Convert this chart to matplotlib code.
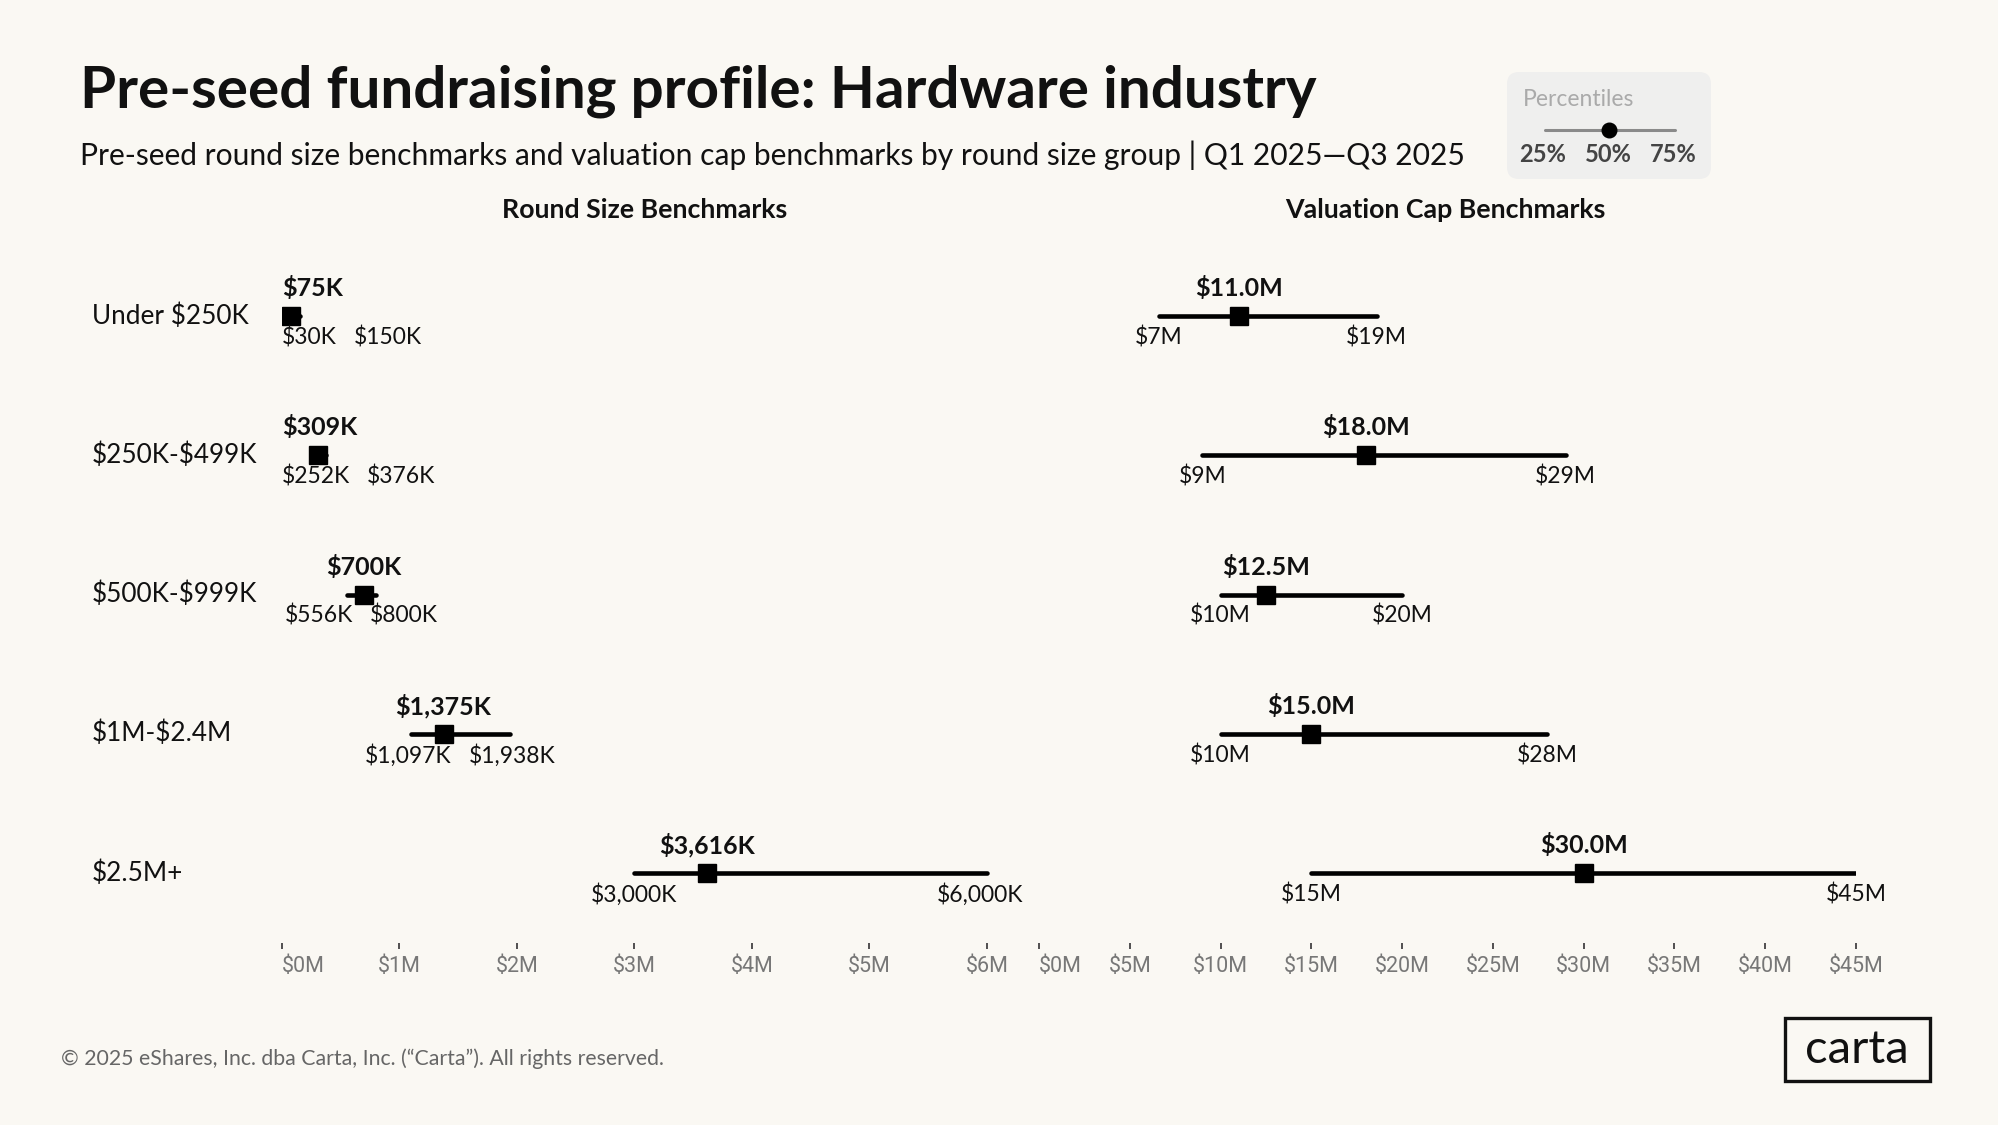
import matplotlib
matplotlib.use("Agg")
import matplotlib.pyplot as plt
from matplotlib.patches import FancyBboxPatch, Rectangle

# ---------------- data ----------------
categories = ["Under $250K", "$250K-$499K", "$500K-$999K", "$1M-$2.4M", "$2.5M+"]
round_p25 = [30, 252, 556, 1097, 3000]      # $K
round_p50 = [75, 309, 700, 1375, 3616]      # $K
round_p75 = [150, 376, 800, 1938, 6000]     # $K
val_p25 = [6.6, 9, 10, 10, 15]              # $M
val_p50 = [11.0, 18.0, 12.5, 15.0, 30.0]    # $M
val_p75 = [18.6, 29, 20, 28, 45]            # $M
round_ticks = [0, 1, 2, 3, 4, 5, 6]         # $M
val_ticks = [0, 5, 10, 15, 20, 25, 30, 35, 40, 45]  # $M

title = "Pre-seed fundraising profile: Hardware industry"
subtitle = ("Pre-seed round size benchmarks and valuation cap benchmarks by round size group | "
            "Q1 2025\u2014Q3 2025")
footer = "\u00a9 2025 eShares, Inc. dba Carta, Inc. (\u201cCarta\u201d). All rights reserved."

# ---------------- style ----------------
BG = "#FAF8F3"
FONT = ["Lato", "DejaVu Sans"]
TICKFONT = ["Liberation Sans Narrow", "Roboto", "DejaVu Sans"]
plt.rcParams["font.family"] = FONT
plt.rcParams["text.parse_math"] = False

W, H = 1999, 1125
fig = plt.figure(figsize=(W / 100, H / 100), dpi=100, facecolor=BG)

# overlay in pixel coordinates for free text
ov = fig.add_axes([0, 0, 1, 1], zorder=0)
ov.set_xlim(0, W)
ov.set_ylim(H, 0)
ov.axis("off")
ov.patch.set_alpha(0)

ov.text(80, 107, title, fontsize=42, fontweight="bold", color="#111111", va="baseline", ha="left")
ov.text(80, 165, subtitle, fontsize=21.6, color="#111111", va="baseline", ha="left")
ov.text(645, 218, "Round Size Benchmarks", fontsize=19.3, fontweight="bold", color="#111111",
        va="baseline", ha="center")
ov.text(1445, 218, "Valuation Cap Benchmarks", fontsize=19.3, fontweight="bold", color="#111111",
        va="baseline", ha="center")
ov.text(61, 1059, footer, fontsize=15.3, color="#666666", va="center", ha="left")

# legend box
ov.add_patch(FancyBboxPatch((1507, 72), 204, 107, boxstyle="round,pad=0,rounding_size=12",
                            facecolor="#EFEFEE", edgecolor="none"))
ov.text(1523, 99, "Percentiles", fontsize=16.5, color="#AAAAAA", va="center", ha="left")
ov.plot([1545, 1675], [130, 130], color="#8A8A8A", lw=2.2, solid_capstyle="round")
ov.plot([1609], [130], marker="o", ms=10.5, color="black")
for lx, lt in zip([1543, 1608, 1673], ["25%", "50%", "75%"]):
    ov.text(lx, 155, lt, fontsize=17, fontweight="bold", color="#444444", va="center", ha="center")

# carta logo
ov.add_patch(Rectangle((1785, 1018), 145, 63, facecolor="none", edgecolor="#111111", lw=2.4))
ov.text(1857, 1050, "carta", fontsize=34, color="#111111", va="center", ha="center")

# row labels
row_px = [316.2, 455.2, 594.2, 733.1, 873.4]
for yp, cat in zip(row_px, categories):
    ov.text(92, yp, cat, fontsize=18.8, color="#111111", va="center", ha="left")

# ---------------- panels ----------------
ax_bottom = 1 - 943 / H
ax_height = 696.6 / H
axL = fig.add_axes([282 / W, ax_bottom, 741.4 / W, ax_height], zorder=2)
axR = fig.add_axes([1039 / W, ax_bottom, 817 / W, ax_height], zorder=2)

rows = list(range(len(categories)))


def style_axis(ax, xmax, ticks):
    ax.set_xlim(0, xmax)
    ax.set_ylim(4.5, -0.5)
    ax.patch.set_alpha(0)
    for s in ax.spines.values():
        s.set_visible(False)
    ax.set_yticks([])
    ax.set_xticks(ticks)
    ax.set_xticklabels([f"${t}M" for t in ticks], fontfamily=TICKFONT)
    ax.tick_params(axis="x", direction="out", length=4.3, width=1.2, color="#333333",
                   labelsize=15.5, labelcolor="#777777", pad=5)
    ax.get_xticklabels()[0].set_ha("left")


style_axis(axL, 6.31, round_ticks)
style_axis(axR, 45, val_ticks)


def draw_panel(ax, p25, p50, p75, fmt_mid, fmt_side):
    items = []
    for i, a, b, c in zip(rows, p25, p50, p75):
        ax.plot([a, c], [i, i], color="black", lw=3.3, solid_capstyle="round", zorder=2)
        ax.plot([b], [i], marker="s", ms=13, color="black", zorder=3)
        tm = ax.annotate(fmt_mid(b), xy=(b, i), xytext=(0, 28), textcoords="offset pixels",
                         ha="center", va="center", fontsize=18, fontweight="bold", color="#111111")
        t1 = ax.annotate(fmt_side(a), xy=(a, i), xytext=(0, -21), textcoords="offset pixels",
                         ha="center", va="center", fontsize=16.5, color="#111111")
        t2 = ax.annotate(fmt_side(c), xy=(c, i), xytext=(0, -21), textcoords="offset pixels",
                         ha="center", va="center", fontsize=16.5, color="#111111")
        items.append((tm, t1, t2))
    return items


itemsL = draw_panel(axL, [v / 1000 for v in round_p25], [v / 1000 for v in round_p50],
                    [v / 1000 for v in round_p75],
                    lambda v: f"${v * 1000:,.0f}K", lambda v: f"${v * 1000:,.0f}K")
itemsR = draw_panel(axR, val_p25, val_p50, val_p75,
                    lambda v: f"${v:.1f}M", lambda v: f"${v:.0f}M")

# ---------------- label collision layout ----------------
fig.canvas.draw()
r = fig.canvas.get_renderer()
GAP = 17


def shift(t, dx):
    x, y = t.xyann
    t.xyann = (x + dx, y)


def adjust(ax, items, right_limit):
    L = ax.transData.transform((0, 0))[0]
    R = right_limit
    for tm, t1, t2 in items:
        bm = tm.get_window_extent(r)
        if bm.x0 < L:
            shift(tm, L - bm.x0)
        elif bm.x1 > R:
            shift(tm, R - bm.x1)
        b1 = t1.get_window_extent(r)
        b2 = t2.get_window_extent(r)
        l1, w1, l2, w2 = b1.x0, b1.width, b2.x0, b2.width
        need = l1 + w1 + GAP - l2
        if need > 0:
            l1 -= need / 2
            l2 += need / 2
        if l1 < L:
            l1 = L
            l2 = max(l2, l1 + w1 + GAP)
        if l2 + w2 > R:
            l2 = R - w2
            l1 = min(l1, l2 - GAP - w1)
        shift(t1, l1 - b1.x0)
        shift(t2, l2 - b2.x0)


adjust(axL, itemsL, 1023)
adjust(axR, itemsR, 1e9)

fig.savefig("out.png", dpi=100, facecolor=BG)
